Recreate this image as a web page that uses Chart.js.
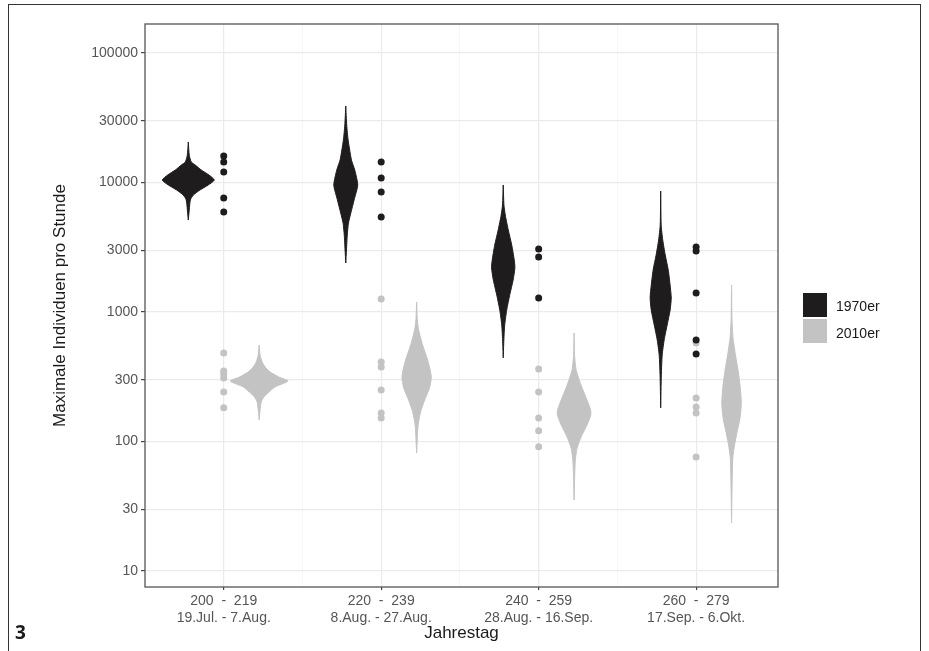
<!DOCTYPE html>
<html>
<head>
<meta charset="utf-8">
<script src="https://cdn.jsdelivr.net/npm/chart.js@4.4.1/dist/chart.umd.min.js"></script>
<style>
  body { margin: 0; background: #fff; overflow: hidden; font-family: "Liberation Sans", Arial, sans-serif; }
  #wrap { position: relative; width: 929px; height: 651px; }
  #frame { position: absolute; left: 8px; top: 4px; width: 911px; height: 700px; border: 1.5px solid #333; border-bottom: none; }
  canvas { position: absolute; left: 0; top: 0; }
  .key { position: absolute; left: 803px; width: 24px; height: 24px; }
  .lab { position: absolute; left: 836px; font-size: 14px; color: #1a1a1a; line-height: 16px; }
  #fig { position: absolute; left: 15px; top: 619px; font-family: "Open Sans", sans-serif; font-weight: bold; font-size: 19px; color: #1a1a1a; }
</style>
</head>
<body>
<div id="wrap">
  <div id="frame"></div>
  <canvas id="chart" width="929" height="651"></canvas>
  <div class="key" style="top:293px;background:#1f1c1d"></div>
  <div class="key" style="top:319px;background:#c3c3c3"></div>
  <div class="lab" style="top:298px">1970er</div>
  <div class="lab" style="top:325px">2010er</div>
  <div id="fig">3</div>
</div>
<script>
// Kategorien (Jahrestage) und Achsenbeschriftungen
const groupDays = ['200  -  219', '220  -  239', '240  -  259', '260  -  279'];
const groupDates = ['19.Jul. - 7.Aug.', '8.Aug. - 27.Aug.', '28.Aug. - 16.Sep.', '17.Sep. - 6.Okt.'];
const yTicks = [10, 30, 100, 300, 1000, 3000, 10000, 30000, 100000];
const seriesNames = ['1970er', '2010er'];

// Einzelwerte (Punkte) je Zeitraum
const dots1970 = [
    [16030, 14390, 12050, 7590, 5920],
    [14390, 10830, 8450, 5420],
    [3060, 2660, 1282],
    [3180, 2960, 1403, 608, 474]
];
const dots2010 = [
    [482, 350, 332, 309, 241, 182],
    [1259, 411, 376, 250, 166, 152],
    [363, 241, 152, 121, 91],
    [576, 217, 185, 166, 76]
];

// Violin-Profile: [Wert, halbe Breite (Dichte in x-Einheiten)], von oben nach unten
const violin1970 = [
    [[20560, 0], [16300, 0.006], [14390, 0.019], [13650, 0.044], [12500, 0.082], [11430, 0.131], [10450, 0.165],
     [9570, 0.127], [8750, 0.074], [8000, 0.032], [7330, 0.013], [6140, 0.006], [5130, 0]],
    [[38990, 0], [27800, 0.006], [21290, 0.015], [14930, 0.036], [12500, 0.057], [9570, 0.076], [7330, 0.053],
     [5810, 0.032], [4860, 0.017], [3930, 0.0095], [3010, 0.0045], [2390, 0]],
    [[9570, 0], [6700, 0.0045], [5610, 0.013], [4300, 0.032], [3290, 0.054], [2520, 0.07], [2190, 0.074],
     [1770, 0.063], [1350, 0.041], [1036, 0.022], [794, 0.0095], [608, 0.004], [442, 0]],
    [[8590, 0], [4700, 0.003], [3600, 0.013], [2750, 0.029], [2110, 0.048], [1610, 0.06], [1282, 0.067],
     [1036, 0.06], [794, 0.041], [608, 0.022], [465, 0.0095], [327, 0.004], [182, 0]]
];
const violin2010 = [
    [[556, 0], [465, 0.006], [411, 0.019], [376, 0.038], [344, 0.07], [315, 0.125], [293, 0.184],
     [264, 0.101], [241, 0.062], [221, 0.03], [202, 0.013], [175, 0.006], [147, 0]],
    [[1194, 0], [868, 0.0045], [726, 0.013], [556, 0.038], [426, 0.07], [344, 0.089], [309, 0.093],
     [259, 0.082], [209, 0.051], [169, 0.025], [134, 0.0095], [103, 0.004], [81.5, 0]],
    [[688, 0], [465, 0.003], [357, 0.013], [273, 0.044], [209, 0.082], [175, 0.105], [160, 0.106],
     [134, 0.082], [108, 0.044], [89, 0.019], [72, 0.008], [50.5, 0.003], [35.3, 0]],
    [[1615, 0], [868, 0.003], [630, 0.0095], [465, 0.025], [357, 0.041], [273, 0.054], [198, 0.062],
     [152, 0.054], [118, 0.035], [94, 0.019], [74.6, 0.008], [42.2, 0.003], [23.5, 0]]
];

const BLACK = '#1f1c1d';
const GREY = '#c3c3c3';
const DODGE = 0.225;
const FONT = '"Liberation Sans", Arial, sans-serif';

// Umriss einer Violine: links hinunter, rechts wieder hinauf
function violinOutline(profile, center) {
    const left = profile.map(([v, w]) => ({ x: center - w, y: v }));
    const right = profile.slice().reverse().map(([v, w]) => ({ x: center + w, y: v }));
    return left.concat(right);
}

function dotPoints(groups) {
    return groups.flatMap((vals, g) => vals.map(v => ({ x: g + 1, y: v })));
}

const datasets = [
    { label: seriesNames[0], data: dotPoints(dots1970), showLine: false, pointRadius: 3.5,
      pointBackgroundColor: BLACK, pointBorderWidth: 0 },
    { label: seriesNames[1], data: dotPoints(dots2010), showLine: false, pointRadius: 3.5,
      pointBackgroundColor: GREY, pointBorderWidth: 0 }
];
violin1970.forEach((p, g) => datasets.push({
    label: seriesNames[0], data: violinOutline(p, g + 1 - DODGE), borderColor: BLACK, backgroundColor: BLACK,
    borderWidth: 1, pointRadius: 0, fill: 'shape', tension: 0.2
}));
violin2010.forEach((p, g) => datasets.push({
    label: seriesNames[1], data: violinOutline(p, g + 1 + DODGE), borderColor: GREY, backgroundColor: GREY,
    borderWidth: 1, pointRadius: 0, fill: 'shape', tension: 0.2
}));

// Rahmen um das Panel
const panelBorder = {
    id: 'panelBorder',
    afterDraw(chart) {
        const { ctx, chartArea: a } = chart;
        ctx.save();
        ctx.strokeStyle = '#555';
        ctx.lineWidth = 1.3;
        ctx.strokeRect(a.left, a.top, a.right - a.left, a.bottom - a.top);
        ctx.restore();
    }
};

const isMajor = v => Number.isInteger(v);

new Chart(document.getElementById('chart'), {
    type: 'line',
    data: { datasets },
    plugins: [panelBorder],
    options: {
        responsive: false,
        animation: false,
        layout: { padding: { left: 50, top: 24, right: 151, bottom: 7 } },
        plugins: { legend: { display: false }, tooltip: { enabled: false } },
        scales: {
            x: {
                type: 'linear',
                min: 0.5,
                max: 4.52,
                afterBuildTicks: s => { s.ticks = [1, 1.5, 2, 2.5, 3, 3.5, 4].map(v => ({ value: v })); },
                afterFit: s => { s.height = 57; },
                ticks: {
                    autoSkip: false, maxRotation: 0, padding: 3, color: '#555',
                    font: { family: FONT, size: 14 },
                    callback: v => isMajor(v) ? [groupDays[v - 1], groupDates[v - 1]] : ''
                },
                grid: {
                    color: c => isMajor(c.tick.value) ? '#ebebeb' : '#f3f3f3',
                    lineWidth: c => isMajor(c.tick.value) ? 1.2 : 0.7,
                    tickLength: 3,
                    tickColor: c => isMajor(c.tick.value) ? '#444' : 'rgba(0,0,0,0)'
                },
                border: { display: false },
                title: { display: true, text: 'Jahrestag', color: '#1a1a1a', padding: 0,
                         font: { family: FONT, size: 17 } }
            },
            y: {
                type: 'logarithmic',
                min: 7.52,
                max: 167500,
                afterBuildTicks: s => { s.ticks = yTicks.map(v => ({ value: v })); },
                afterFit: s => { s.width = 95; },
                ticks: {
                    padding: 3, color: '#555', font: { family: FONT, size: 14 },
                    callback: v => String(v)
                },
                grid: { color: '#ebebeb', lineWidth: 1.2, tickLength: 4, tickColor: '#444' },
                border: { display: false },
                title: { display: true, text: 'Maximale Individuen pro Stunde', color: '#1a1a1a', padding: 0,
                         font: { family: FONT, size: 17 } }
            }
        }
    }
});
</script>
</body>
</html>
